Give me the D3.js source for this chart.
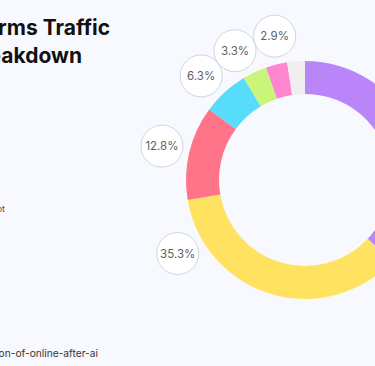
<!DOCTYPE html>
<html>
<head>
<meta charset="utf-8">
<script src="https://cdn.jsdelivr.net/npm/d3@7/dist/d3.min.js"></script>
<style>
  html, body { margin: 0; padding: 0; background: #f8f9fe; overflow: hidden; }
  svg { display: block; }
</style>
</head>
<body>
<svg id="chart" width="375" height="366"></svg>
<script>
// ---- data ----
const categories = ["ChatGPT", "Google Gemini", "Perplexity", "Claude", "Microsoft Copilot", "DeepSeek", "Others"];
const values = [37.0, 35.3, 12.8, 6.3, 3.3, 2.9, 2.4];
const colors = ["#b985f8", "#ffe360", "#ff7489", "#57ddfb", "#c8f57a", "#ff85d0", "#efefef"];
const titleLines = ["AI Platforms Traffic", "Breakdown"];
const legendFragment = "Copilot";
const sourceText = "Source: the-evolution-of-online-after-ai";

// ---- layout ----
const W = 375, H = 366;
const cx = 305, cy = 180, rOuter = 119, rInner = 86, rLabel = 147, bubbleR = 21;
const svg = d3.select("#chart");
svg.append("rect").attr("width", W).attr("height", H).attr("fill", "#f8f9fe");

const data = categories.map((c, i) => ({ name: c, value: values[i], color: colors[i] }));
const pie = d3.pie().sort(null).value(d => d.value);
const arcs = pie(data);
const arc = d3.arc().innerRadius(rInner).outerRadius(rOuter);

const g = svg.append("g").attr("transform", `translate(${cx},${cy})`);
g.selectAll("path.slice").data(arcs).join("path")
  .attr("class", "slice")
  .attr("d", arc)
  .attr("fill", d => d.data.color);

// labels: mid angle, relaxed to avoid overlap, clamped on the lower-left
const deg = Math.PI / 180;
let labels = arcs.filter(a => a.data.value >= 2.5).map(a => ({
  a, ang: (a.startAngle + a.endAngle) / 2
}));
labels.forEach(l => { if (l.ang > Math.PI && l.ang < 240 * deg) l.ang = 240 * deg; });
const minSep = 16.5 * deg;
labels.sort((p, q) => p.ang - q.ang);
for (let it = 0; it < 50; it++) {
  for (let i = 0; i < labels.length - 1; i++) {
    const d = labels[i + 1].ang - labels[i].ang;
    if (d < minSep) {
      const push = (minSep - d);
      labels[i].ang -= push * 0.7;
      labels[i + 1].ang += push * 0.3;
    }
  }
}
const lg = g.selectAll("g.lbl").data(labels).join("g")
  .attr("class", "lbl")
  .attr("transform", l => `translate(${rLabel * Math.sin(l.ang)},${-rLabel * Math.cos(l.ang)})`);
lg.append("circle").attr("r", bubbleR).attr("fill", "#ffffff")
  .attr("stroke", "#cdd6e2").attr("stroke-width", 1);
lg.append("text").attr("text-anchor", "middle").attr("dy", "0.36em")
  .attr("font-family", "Inter, 'Noto Sans', sans-serif").attr("font-size", 11.5)
  .attr("fill", "#5f5f66").attr("font-weight", 400)
  .text(l => l.a.data.value.toFixed(1) + "%");

// title
const title = svg.append("text")
  .attr("font-family", "Inter, 'Noto Sans', sans-serif")
  .attr("font-weight", 700).attr("font-size", 21).attr("fill", "#111");
title.append("tspan").attr("x", 110).attr("y", 35).attr("text-anchor", "end").text(titleLines[0]);
title.append("tspan").attr("x", 82).attr("y", 63).attr("text-anchor", "end").text(titleLines[1]);

// legend fragment
svg.append("text").attr("x", 5).attr("y", 212).attr("text-anchor", "end")
  .attr("font-family", "Inter, 'Noto Sans', sans-serif").attr("font-size", 9)
  .attr("fill", "#555").text(legendFragment);

// source
svg.append("text").attr("x", 98).attr("y", 357).attr("text-anchor", "end")
  .attr("font-family", "Inter, 'Noto Sans', sans-serif").attr("font-size", 10.2)
  .attr("fill", "#333").text(sourceText);
</script>
</body>
</html>
